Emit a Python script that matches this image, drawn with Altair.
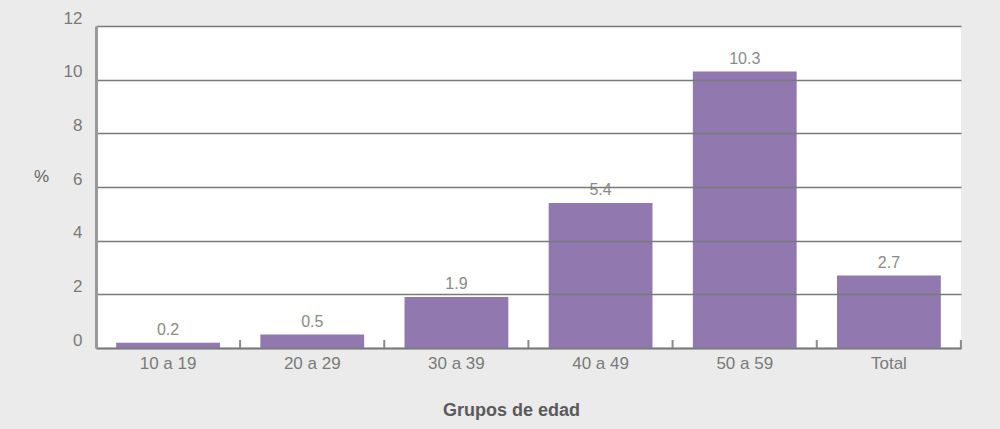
import altair as alt
import pandas as pd

categories = ["10 a 19", "20 a 29", "30 a 39", "40 a 49", "50 a 59", "Total"]
values = [0.2, 0.5, 1.9, 5.4, 10.3, 2.7]
labels = ["0.2", "0.5", "1.9", "5.4", "10.3", "2.7"]

df = pd.DataFrame({"grupo": categories, "pct": values, "label": labels})

FONT = "Liberation Sans"
PURPLE = "#9179b0"

x_enc = alt.X(
    "grupo:N",
    sort=categories,
    scale=alt.Scale(paddingInner=0.28, paddingOuter=0.14),
    axis=alt.Axis(
        title="Grupos de edad",
        labelAngle=0,
        labelFontSize=17,
        labelColor="#7a7a7a",
        labelFont=FONT,
        labelPadding=7,
        ticks=False,
        domainColor="#8a8a8a",
        domainWidth=2,
        titleFont=FONT,
        titleFontSize=18,
        titleFontWeight="bold",
        titleColor="#5a5a5a",
        titleX=415,
        titleY=62,
        titleAlign="center",
        titleBaseline="middle",
    ),
)

y_enc = alt.Y(
    "pct:Q",
    scale=alt.Scale(domain=[0, 12], nice=False),
    axis=alt.Axis(
        title="%",
        values=[0, 2, 4, 6, 8, 10, 12],
        labelFontSize=17,
        labelColor="#7a7a7a",
        labelFont=FONT,
        labelPadding=14,
        labelOffset=-8,
        ticks=False,
        domainColor="#999999",
        domainWidth=3,
        gridColor="#7a7a7a",
        gridWidth=1.6,
        zindex=1,
        titleAngle=0,
        titleX=-55,
        titleY=150,
        titleAlign="center",
        titleBaseline="middle",
        titleFont=FONT,
        titleFontSize=17,
        titleFontWeight="normal",
        titleColor="#666666",
    ),
)

bars = alt.Chart(df).mark_bar(color=PURPLE).encode(x=x_enc, y=y_enc)

text = alt.Chart(df).mark_text(
    baseline="bottom", dy=-5, fontSize=16, color="#8a8a8a", font=FONT
).encode(x=alt.X("grupo:N", sort=categories), y="pct:Q", text="label:N")

ticks = alt.Chart(df).mark_rule(color="#8a8a8a", strokeWidth=2, xOffset=72).encode(
    x=alt.X("grupo:N", sort=categories),
    y=alt.value(314),
    y2=alt.value(322),
)

chart = (
    alt.layer(bars, text, ticks)
    .properties(
        width=865,
        height=322,
        background="#ebebeb",
        padding={"left": 96, "top": 26, "right": 39, "bottom": 81},
        autosize=alt.AutoSizeParams(type="none"),
    )
    .configure_view(fill="white", stroke=None)
)

chart.save("out.html", embed_options={"renderer": "svg", "actions": False})
